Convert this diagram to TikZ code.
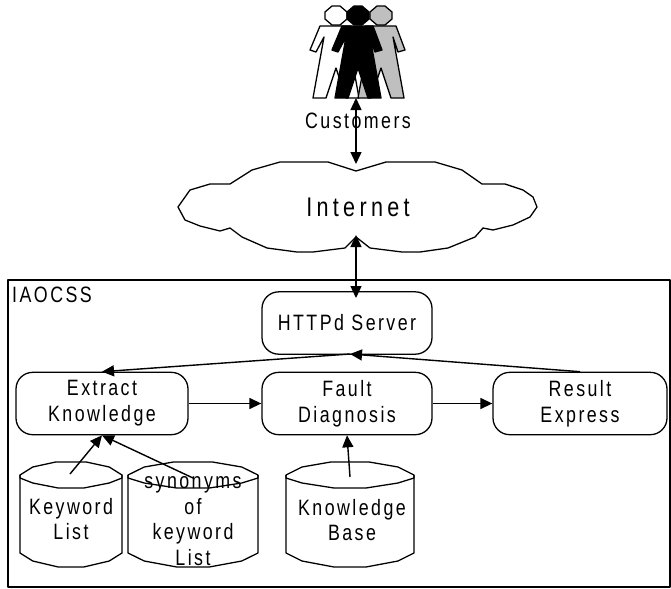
\documentclass[tikz,border=0pt]{standalone}
\usepackage{fontspec}
\setmainfont[FakeStretch=0.8,LetterSpace=11]{Liberation Sans}
\usetikzlibrary{arrows.meta}
\tikzset{
    flow/.style={line width=1.2pt, -{Triangle[length=0.36cm, width=0.33cm]}},
    twoway/.style={line width=1.2pt, {Triangle[length=0.36cm, width=0.33cm]}-{Triangle[length=0.36cm, width=0.33cm]}},
    procbox/.style={draw, line width=1.1pt, rounded corners=0.5cm, minimum height=1.87cm, align=center, inner sep=0pt},
    outline/.style={line width=1.1pt, line join=round},
    txt/.style={align=center, inner sep=0pt}
}

\begin{document}
\begin{tikzpicture}[x=0.03cm, y=-0.03cm, every node/.append style={font=\fontsize{19}{22}\selectfont}]
    \useasboundingbox (0, 0) rectangle (671, 589);

    \draw[outline] (8, 280) rectangle (670, 587);
    \node[txt, anchor=west] (iaocss) at (12, 295) {IAOCSS};

    \foreach \cx/\shade in {336/white, 381/black!25, 358/black} {
        \draw[outline, fill=\shade]
        (\cx-4, 6) -- (\cx+4, 6) -- (\cx+11, 12) -- (\cx+11, 19) -- (\cx+4, 25)
        -- (\cx-4, 25) -- (\cx-11, 19) -- (\cx-11, 12) -- cycle;
        \draw[outline, fill=\shade]
        (\cx-16, 26) -- (\cx+15, 26) -- (\cx+24, 50) -- (\cx+17, 52) -- (\cx+12, 37)
        -- (\cx+23, 98) -- (\cx+10, 98) -- (\cx, 68) -- (\cx-10, 98)
        -- (\cx-23, 98) -- (\cx-12, 37) -- (\cx-20, 52) -- (\cx-26, 50) -- cycle;
    }
    \coordinate (peoplefoot) at (356, 98);
    \node[txt] (customers) at (358, 121) {Customers};

    \draw[outline]
    (356, 171) -- (386, 162) -- (435, 162) -- (462, 170) -- (482, 184) -- (505, 184)
    -- (523, 190) -- (533, 197) -- (537, 207) -- (530, 217) -- (513, 225) -- (493, 230)
    -- (483, 228) -- (475, 237) -- (448, 248) -- (420, 252) -- (402, 252) -- (370, 248)
    -- (356, 237) -- (345, 248) -- (313, 252) -- (297, 252) -- (267, 248) -- (242, 237)
    -- (230, 228) -- (220, 231) -- (200, 226) -- (185, 220) -- (178, 207) -- (190, 190)
    -- (210, 184) -- (230, 184) -- (252, 170) -- (280, 162) -- (328, 162) -- cycle;
    \coordinate (cloudtop) at (356, 164);
    \coordinate (cloudbottom) at (356, 235);
    \node[txt] (internet) at (358, 207) {\fontsize{23}{26}\selectfont\addfontfeature{LetterSpace=16}Internet};

    \node[procbox, minimum width=5.1cm] (httpd) at (347, 323) {HTTPd Server};
    \node[procbox, minimum width=5.16cm] (extract) at (102, 403.5) {Extract\\Knowledge};
    \node[procbox, minimum width=5.1cm] (fault) at (347, 403.5) {Fault\\Diagnosis};
    \node[procbox, minimum width=5.22cm] (result) at (580, 403.5) {Result\\Express};
    \coordinate (httpdin) at (350, 354);
    \coordinate (httpdtop) at (356, 298);

    \foreach \cx/\hw in {71/51, 193/65, 350/64} {
        \draw[outline]
        (\cx-\hw, 475) -- (\cx-0.75*\hw, 467) -- (\cx-0.3*\hw, 462) -- (\cx+0.3*\hw, 462)
        -- (\cx+0.75*\hw, 467) -- (\cx+\hw, 475) -- (\cx+\hw, 553) -- (\cx+0.75*\hw, 561)
        -- (\cx+0.25*\hw, 567) -- (\cx-0.25*\hw, 567) -- (\cx-0.75*\hw, 561) -- (\cx-\hw, 553) -- cycle;
        \draw[outline]
        (\cx-\hw, 475) -- (\cx-\hw, 478) -- (\cx-0.75*\hw, 483) -- (\cx-0.25*\hw, 488)
        -- (\cx+0.25*\hw, 488) -- (\cx+0.75*\hw, 483) -- (\cx+\hw, 478) -- (\cx+\hw, 475);
    }
    \node[txt] (keyword) at (71, 519) {Keyword\\List};
    \node[txt] (synonyms) at (193, 521) {synonyms\\of\\keyword\\List};
    \node[txt] (kbase) at (352, 520) {Knowledge\\Base};
    \coordinate (keywordout) at (70, 474);
    \coordinate (synonymsout) at (193, 478);
    \coordinate (kbaseout) at (350, 477);

    \draw[twoway] (peoplefoot) -- (cloudtop);
    \draw[twoway] (cloudbottom) -- (httpdtop);
    \draw[flow] (httpdin) -- (extract.north);
    \draw[flow] (result.north) -- (httpdin);
    \draw[flow] (extract.east) -- (fault.west);
    \draw[flow] (fault.east) -- (result.west);
    \draw[flow] (keywordout) -- (extract.south);
    \draw[flow] (synonymsout) -- (extract.south);
    \draw[flow] (kbaseout) -- (fault.south);
\end{tikzpicture}
\end{document}
